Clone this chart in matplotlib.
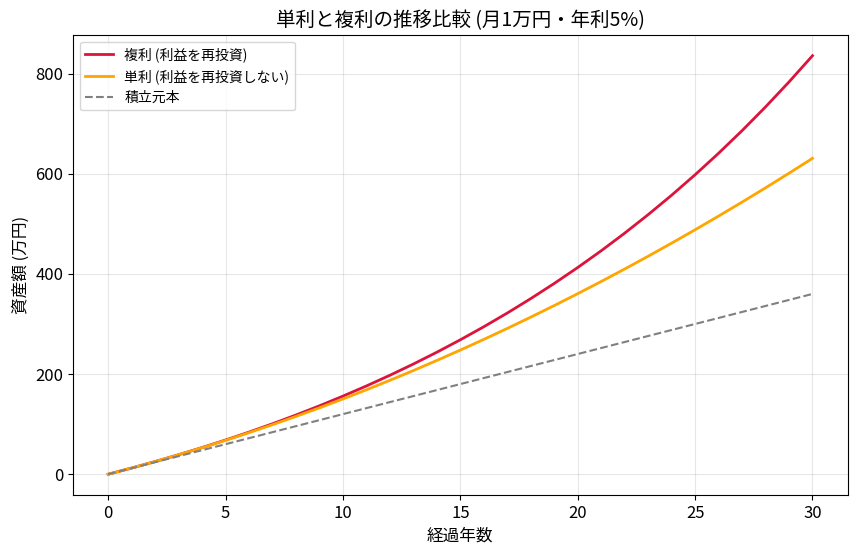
import matplotlib
matplotlib.use("Agg")
import matplotlib.pyplot as plt

plt.rcParams['font.family'] = ['Noto Sans CJK JP', 'DejaVu Sans']

years = list(range(0, 31))
compound = [0, 12.33, 25.30, 38.91, 53.23, 68.29, 84.11, 100.75, 118.23, 136.61,
            155.93, 176.24, 197.58, 220.02, 243.61, 268.40, 294.46, 321.86, 350.66,
            380.93, 412.74, 446.19, 481.35, 518.31, 557.15, 597.99, 640.91, 686.04,
            733.46, 783.32, 835.72]
simple = [0, 12.33, 25.25, 38.78, 52.9, 67.63, 82.95, 98.88, 115.4, 132.53,
          150.25, 168.58, 187.5, 207.03, 227.15, 247.88, 269.2, 291.13, 313.65,
          336.78, 360.5, 384.83, 409.75, 435.28, 461.4, 488.13, 515.45, 543.38,
          571.9, 601.03, 630.75]
principal = [0, 12, 24, 36, 48, 60, 72, 84, 96, 108, 120, 132, 144, 156, 168, 180,
             192, 204, 216, 228, 240, 252, 264, 276, 288, 300, 312, 324, 336, 348, 360]

labels = ['複利 (利益を再投資)', '単利 (利益を再投資しない)', '積立元本']

fig, ax = plt.subplots(figsize=(8.58, 5.52), dpi=100)
ax.plot(years, compound, color='#DC143C', lw=2, label=labels[0])
ax.plot(years, simple, color='#FFA500', lw=2, label=labels[1])
ax.plot(years, principal, color='gray', lw=1.5, ls='--', label=labels[2])
ax.set_title('単利と複利の推移比較 (月1万円・年利5%)', fontsize=14)
ax.set_xlabel('経過年数', fontsize=12)
ax.set_ylabel('資産額 (万円)', fontsize=12)
ax.tick_params(labelsize=12)
ax.grid(True, alpha=0.3)
ax.legend(loc='upper left', fontsize=10)
fig.subplots_adjust(left=0.085, right=0.988, top=0.937, bottom=0.103)
fig.savefig('out.png', dpi=100)
